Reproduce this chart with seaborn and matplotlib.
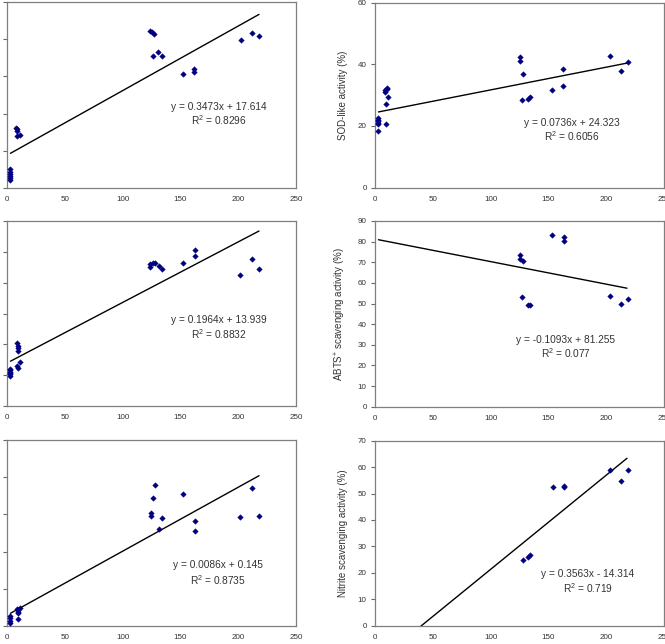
import matplotlib
matplotlib.use('Agg')
import matplotlib.pyplot as plt
import seaborn as sns
import pandas as pd

# panel 1 (top left, y label cropped)
p1_x = [3, 3, 3, 3, 3, 3, 8, 9, 9, 9, 11, 124, 125, 127.5, 126, 131, 134, 152, 162, 162, 202, 212, 218]
p1_y = [4.5, 5.5, 6.5, 7.5, 8.5, 10.0, 32.5, 31.5, 30.6, 27.9, 28.3, 84.3, 83.8, 82.7, 71.2, 73.0, 70.8, 61.4, 63.8, 62.5, 79.8, 83.1, 81.5]

# panel 2 (SOD-like)
p2_x = [3, 3, 3, 3, 3, 3, 9, 9, 10, 10, 9.5, 9.5, 11, 125.5, 125.5, 128.4, 127, 132, 134, 153, 163, 163, 203, 212.7, 218.8]
p2_y = [22.5, 22.0, 21.5, 21.0, 20.5, 18.5, 31.1, 31.5, 31.9, 32.2, 27.1, 20.5, 29.4, 42.5, 41.2, 36.9, 28.5, 28.6, 29.5, 31.8, 38.3, 32.8, 42.6, 37.8, 40.8]

# panel 3 (middle left)
p3_x = [3, 3, 3, 3, 3, 3, 9, 9.5, 9.5, 9.5, 9, 9.5, 11, 124, 124, 126.3, 127.7, 131.5, 134, 152.5, 163, 163, 201.6, 211.6, 217.7]
p3_y = [12.0, 11.6, 11.1, 10.7, 10.3, 9.8, 20.3, 19.5, 18.7, 17.9, 13.1, 12.2, 14.4, 45.2, 46.2, 46.5, 46.3, 45.4, 44.3, 46.5, 50.6, 48.5, 42.5, 47.6, 44.4]

# panel 4 (ABTS)
p4_x = [125.5, 125.5, 128.4, 127.3, 132.2, 134.5, 153.2, 163.3, 163.3, 202.9, 212.7, 218.8]
p4_y = [73.3, 71.4, 70.4, 53.2, 49.3, 49.3, 83.0, 82.2, 80.1, 53.6, 49.6, 52.2]

# panel 5 (bottom left)
p5_x = [3, 3, 3, 3, 9, 9.5, 9.5, 9.5, 9.5, 11, 124.9, 124.9, 126.6, 128, 131.5, 134, 152.5, 163, 163, 201.6, 212, 218]
p5_y = [0.134, 0.103, 0.072, 0.045, 0.228, 0.215, 0.19, 0.17, 0.098, 0.237, 1.52, 1.48, 1.72, 1.89, 1.30, 1.45, 1.78, 1.41, 1.28, 1.46, 1.86, 1.48]

# panel 6 (nitrite)
p6_x = [127.6, 132.5, 134.2, 153.8, 163.6, 163.6, 202.9, 212.7, 218.8]
p6_y = [25.0, 26.0, 26.6, 52.5, 52.6, 52.8, 59.0, 54.9, 58.9]

# trend lines (slope, intercept) and fitted x-range
slopes = [0.3473, 0.0736, 0.1964, -0.1093, 0.0086, 0.3563]
intercepts = [17.614, 24.323, 13.939, 81.255, 0.145, -14.314]
eq_labels = ['y = 0.3473x + 17.614', 'y = 0.0736x + 24.323', 'y = 0.1964x + 13.939',
             'y = -0.1093x + 81.255', 'y = 0.0086x + 0.145', 'y = 0.3563x - 14.314']
r2_labels = ['R$^2$ = 0.8296', 'R$^2$ = 0.6056', 'R$^2$ = 0.8832',
             'R$^2$ = 0.077', 'R$^2$ = 0.8735', 'R$^2$ = 0.719']
fit_range = [3, 218]

y_labels = ['', 'SOD-like activity (%)', '', 'ABTS$^{+}$ scavenging activity (%)',
            '', 'Nitrite scavenging activity (%)']
y_limits = [(0, 100, 20), (0, 60, 20), (0, 60, 10), (0, 90, 10), (0, 2.5, 0.5), (0, 70, 10)]

points = [(p1_x, p1_y), (p2_x, p2_y), (p3_x, p3_y), (p4_x, p4_y), (p5_x, p5_y), (p6_x, p6_y)]

# axes boxes in pixels: (left, top, right, bottom)
W, H = 665, 644
boxes = [(7, 2, 296, 188), (375, 2.5, 664, 187.7),
         (7, 221, 296, 406), (375, 221, 664, 406.7),
         (7, 440, 296, 626), (375, 440.7, 664, 625.7)]
eq_pos = [(0.733, 0.438, 0.363), (0.682, 0.351, 0.276),
          (0.733, 0.463, 0.388), (0.66, 0.359, 0.288),
          (0.731, 0.326, 0.249), (0.736, 0.278, 0.205)]

sns.set_style('white')
plt.rcParams['font.family'] = ['Liberation Sans', 'DejaVu Sans']
plt.rcParams['mathtext.fontset'] = 'custom'
plt.rcParams['mathtext.rm'] = 'Liberation Sans'

fig = plt.figure(figsize=(6.65, 6.44), dpi=100)
txt = '#333333'

for i in range(6):
    l, t, r, b = boxes[i]
    ax = fig.add_axes([l / W, (H - b) / H, (r - l) / W, (b - t) / H])
    px, py = points[i]
    df = pd.DataFrame({'x': px, 'y': py})
    sns.scatterplot(data=df, x='x', y='y', ax=ax, marker='D', s=8,
                    color='#000080', edgecolor='#000080', linewidth=0.3, zorder=3)
    lx = pd.Series(fit_range, dtype=float)
    ly = slopes[i] * lx + intercepts[i]
    ax.plot(lx, ly, color='black', linewidth=1.0, zorder=2)

    y0, y1, step = y_limits[i]
    ax.set_xlim(0, 250)
    ax.set_ylim(y0, y1)
    ax.set_xticks(range(0, 251, 50))
    n = int(round((y1 - y0) / step))
    yt = [y0 + k * step for k in range(n + 1)]
    ax.set_yticks(yt)
    if step < 1:
        ax.set_yticklabels(['%g' % v for v in yt])
    ax.set_xlabel('')
    ax.set_ylabel(y_labels[i], fontsize=7, color=txt, labelpad=7)
    ax.tick_params(axis='both', labelsize=5.8, colors=txt, pad=3)
    ax.tick_params(axis='x', length=0, pad=6)
    ax.tick_params(axis='y', length=3, width=0.8, direction='out', left=True, color='#666666')
    if i % 2 == 0:
        # left column: tick labels fall outside the cropped picture
        ax.tick_params(axis='y', labelleft=False)
    for sp in ax.spines.values():
        sp.set_color('#7f7f7f')
        sp.set_linewidth(0.9)

    fx, fy1, fy2 = eq_pos[i]
    ax.text(fx, fy1, eq_labels[i], transform=ax.transAxes, ha='center', va='center',
            fontsize=7.3, color=txt)
    ax.text(fx, fy2, r2_labels[i], transform=ax.transAxes, ha='center', va='center',
            fontsize=7.3, color=txt)

fig.savefig('out.png', dpi=100)
plt.close(fig)
